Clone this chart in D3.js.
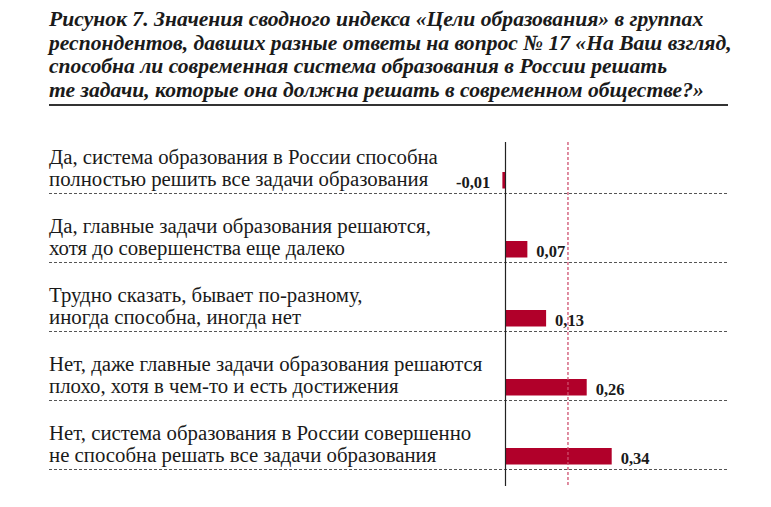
<!DOCTYPE html>
<html>
<head>
<meta charset="utf-8">
<script src="https://cdn.jsdelivr.net/npm/d3@7"></script>
<style>
  body { margin: 0; background: #fff; }
</style>
</head>
<body>
<div id="chart"></div>
<script>
(function () {

    var width = 771;
    var height = 507;

    // title lines
    var titleLines = [
        "Рисунок 7. Значения сводного индекса «Цели образования» в группах",
        "респондентов, давших разные ответы на вопрос № 17 «На Ваш взгляд,",
        "способна ли современная система образования в России решать",
        "те задачи, которые она должна решать в современном обществе?»"
    ];

    // answers (two lines each)
    var categories = [
        ["Да, система образования в России способна", "полностью решить все задачи образования"],
        ["Да, главные задачи образования решаются,", "хотя до совершенства еще далеко"],
        ["Трудно сказать, бывает по-разному,", "иногда способна, иногда нет"],
        ["Нет, даже главные задачи образования решаются", "плохо, хотя в чем-то и есть достижения"],
        ["Нет, система образования в России совершенно", "не способна решать все задачи образования"]
    ];
    var values = [-0.01, 0.07, 0.13, 0.26, 0.34];
    var valueLabels = ["-0,01", "0,07", "0,13", "0,26", "0,34"];
    var meanValue = 0.2;

    var svg = d3.select("#chart")
        .append("svg")
        .attr("width", width)
        .attr("height", height);

    // title
    var title = svg.append("g")
    title.selectAll("text")
        .data(titleLines)
        .enter().append("text")
        .attr("x", 49)
        .attr("y", function (d, i) { return 26 + i * 23.7; })
        .attr("font-family", "Liberation Serif")
        .attr("font-style", "italic")
        .attr("font-weight", "bold")
        .attr("font-size", 21.6)
        .attr("fill", "#1a1a1a")
        .text(function (d) { return d; });

    svg.append("line")
        .attr("x1", 49).attr("x2", 728)
        .attr("y1", 105).attr("y2", 105)
        .attr("stroke", "#333")
        .attr("stroke-width", 2);

    var idx = d3.range(categories.length);

    var x = d3.scaleLinear().domain([0, 0.34]).range([505.5, 611.7]);
    var y = d3.scaleBand().domain(idx).range([124.5, 469.5]);

    // separators
    svg.selectAll(".sep")
        .data(idx)
        .enter().append("line")
        .attr("class", "sep")
        .attr("x1", 49).attr("x2", 728)
        .attr("y1", function (d) { return y(d) + y.bandwidth(); })
        .attr("y2", function (d) { return y(d) + y.bandwidth(); })
        .attr("stroke", "#555")
        .attr("stroke-width", 1)
        .attr("stroke-dasharray", "3,2");

    // labels, one text per line
    var lines = [];
    idx.forEach(function (d) {
        lines.push({ row: d, k: 0, t: categories[d][0] });
        lines.push({ row: d, k: 1, t: categories[d][1] });
    });
    svg.selectAll(".lab")
        .data(lines)
        .enter().append("text")
        .attr("class", "lab")
        .attr("x", 49)
        .attr("y", function (d) { return y(d.row) + y.bandwidth() - (d.k === 0 ? 30 : 7.5); })
        .attr("font-family", "Liberation Serif")
        .attr("font-size", 20.8)
        .attr("fill", "#1a1a1a")
        .text(function (d) { return d.t; });

    // bars
    svg.selectAll(".bar")
        .data(idx)
        .enter().append("rect")
        .attr("class", "bar")
        .attr("x", function (d) { return Math.min(x(0), x(values[d])); })
        .attr("width", function (d) { return Math.abs(x(values[d]) - x(0)); })
        .attr("y", function (d) { return y(d) + y.bandwidth() - 21.5; })
        .attr("height", 16.5)
        .attr("fill", "#b1002a");

    // value labels
    svg.selectAll(".val")
        .data(idx)
        .enter().append("text")
        .attr("class", "val")
        .attr("x", function (d) {
            return values[d] < 0 ? x(values[d]) - 12 : x(values[d]) + 9;
        })
        .attr("y", function (d) { return y(d) + y.bandwidth() - 6; })
        .attr("text-anchor", function (d) { return values[d] < 0 ? "end" : "start"; })
        .attr("font-family", "Liberation Serif")
        .attr("font-weight", "bold")
        .attr("font-size", 16.5)
        .attr("fill", "#1a1a1a")
        .text(function (d) { return valueLabels[d]; });

    // zero axis
    svg.append("line")
        .attr("x1", x(0)).attr("x2", x(0))
        .attr("y1", 142).attr("y2", 486)
        .attr("stroke", "#222")
        .attr("stroke-width", 1.2);

    // mean line
    svg.append("line")
        .attr("x1", x(meanValue)).attr("x2", x(meanValue))
        .attr("y1", 142).attr("y2", 486)
        .attr("stroke", "#cf4f6e")
        .attr("stroke-width", 1.3)
        .attr("stroke-dasharray", "3,2");

})();
</script>
</body>
</html>
